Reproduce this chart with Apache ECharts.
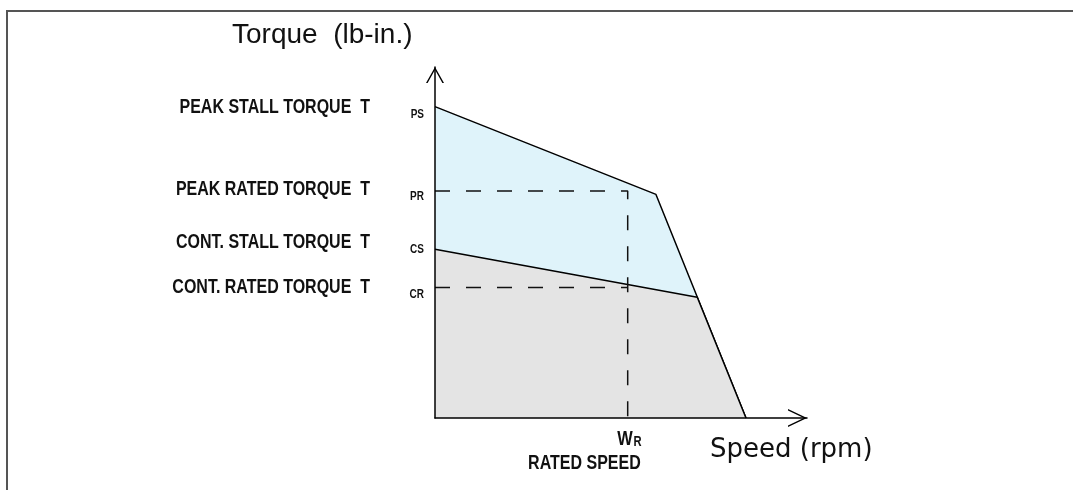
<!DOCTYPE html>
<html>
<head>
<meta charset="utf-8">
<script src="https://cdn.jsdelivr.net/npm/echarts@6/dist/echarts.min.js"></script>
<style>html,body{margin:0;padding:0;background:#fff;}#c{width:1073px;height:490px;}</style>
</head>
<body>
<div id="c"></div>
<script>
// ---- data (relative units) ----
const peakSpeed  = [0, 59.4, 83.6];
const peakTorque = [88.7, 63.7, 0];
const contSpeed  = [0, 70.5, 83.6];
const contTorque = [48.1, 34.4, 0];
const ratedSpeed = 51.8;
const peakRated  = 64.7;
const contRated  = 37.2;
const levelNames = ['PEAK STALL TORQUE  T', 'PEAK RATED TORQUE  T', 'CONT. STALL TORQUE  T', 'CONT. RATED TORQUE  T'];
const levelSubs  = ['PS', 'PR', 'CS', 'CR'];
const levelTicks = [86.5, 63.1, 47.9, 35.1];
const speedMain = 'W';
const speedSub  = 'R';
const speedName = 'RATED SPEED';
const yTitle = 'Torque  (lb-in.)';
const xTitle = 'Speed (rpm)';

const BOLD = "'Liberation Sans',Arial,sans-serif";
const SQ = 0.8; // horizontal condensing of the bold caption font
const zip = (a, b) => a.map((v, i) => [v, b[i]]);

const chart = echarts.init(document.getElementById('c'), null, {renderer: 'canvas'});
const axisCommon = {
  type: 'value', min: 0, max: 100, z: 5,
  axisTick: {show: false}, axisLabel: {show: false}, splitLine: {show: false}
};
const option = {
  animation: false,
  backgroundColor: '#fff',
  grid: {left: 435, right: 266, top: 67, bottom: 72, outerBoundsMode: 'none'},
  title: [
    {text: yTitle, left: 232, top: 21, padding: 0,
     textStyle: {fontFamily: "'Liberation Sans',Arial,sans-serif", fontSize: 28, fontWeight: 'normal', color: '#111', lineHeight: 28}},
    {text: xTitle, left: 710, top: 437, padding: 0,
     textStyle: {fontFamily: "'DejaVu Sans',sans-serif", fontSize: 26, fontWeight: 'normal', color: '#111', lineHeight: 26}}
  ],
  xAxis: Object.assign({}, axisCommon, {
    axisLine: {show: true, onZero: false, lineStyle: {color: '#000', width: 1.5},
      symbol: ['none', 'path://M0 19 L9 0 L18 19 L16.45 19 L9 3.27 L1.55 19 Z'],
      symbolSize: [18, 19], symbolOffset: [0, -9.5]}
  }),
  yAxis: Object.assign({}, axisCommon, {
    axisLine: {show: true, onZero: false, lineStyle: {color: '#000', width: 1.5},
      symbol: ['none', 'path://M0 16 L9 0 L18 16 L16.39 16 L9 2.86 L1.61 16 Z'],
      symbolSize: [18, 16], symbolOffset: [0, -8]}
  }),
  series: [
    {
      name: 'peak', type: 'line', showSymbol: false, silent: true, z: 2,
      data: zip(peakSpeed, peakTorque),
      lineStyle: {color: '#000', width: 1.5},
      areaStyle: {color: '#dff3fa', opacity: 1}
    },
    {
      name: 'cont', type: 'line', showSymbol: false, silent: true, z: 3,
      data: zip(contSpeed, contTorque),
      lineStyle: {color: '#000', width: 1.5},
      areaStyle: {color: '#e4e4e4', opacity: 1}
    },
    {
      name: 'ratedPeak', type: 'line', showSymbol: false, silent: true, z: 4,
      data: [[0, peakRated], [ratedSpeed, peakRated], [ratedSpeed, 0]],
      lineStyle: {color: '#111', width: 1.5, type: [15, 16]}
    },
    {
      name: 'ratedCont', type: 'line', showSymbol: false, silent: true, z: 4,
      data: [[0, contRated], [ratedSpeed, contRated]],
      lineStyle: {color: '#111', width: 1.5, type: [15, 16]}
    }
  ]
};
chart.setOption(option);

// condensed bold captions, anchored through the axes' own scales
function cap(text, x, y, size, align) {
  return {
    type: 'text', silent: true, z: 10, x: x, y: y, scaleX: SQ, scaleY: 1,
    style: {text: text, fontFamily: BOLD, fontWeight: 'bold', fontSize: size, fill: '#111',
      align: align, textAlign: align, verticalAlign: 'middle', textVerticalAlign: 'middle'}
  };
}
const els = [{
  type: 'rect', silent: true, z: 0,
  shape: {x: 7, y: 11, width: 1100, height: 600},
  style: {fill: 'none', stroke: '#555', lineWidth: 2}
}];
levelTicks.forEach((v, i) => {
  const p = chart.convertToPixel({gridIndex: 0}, [0, v]);
  els.push(cap(levelNames[i], p[0] - 65, p[1] - 7, 20, 'right'));
  els.push(cap(levelSubs[i], p[0] - 11, p[1], 12.5, 'right'));
});
const ws = chart.convertToPixel({gridIndex: 0}, [ratedSpeed, 0]);
els.push(cap(speedMain, ws[0] + 5, ws[1] + 21.5, 20.5, 'right'));
els.push(cap(speedSub, ws[0] + 14, ws[1] + 24, 14, 'right'));
els.push(cap(speedName, ws[0] + 13, ws[1] + 45, 20, 'right'));
chart.setOption({graphic: els});
</script>
</body>
</html>
